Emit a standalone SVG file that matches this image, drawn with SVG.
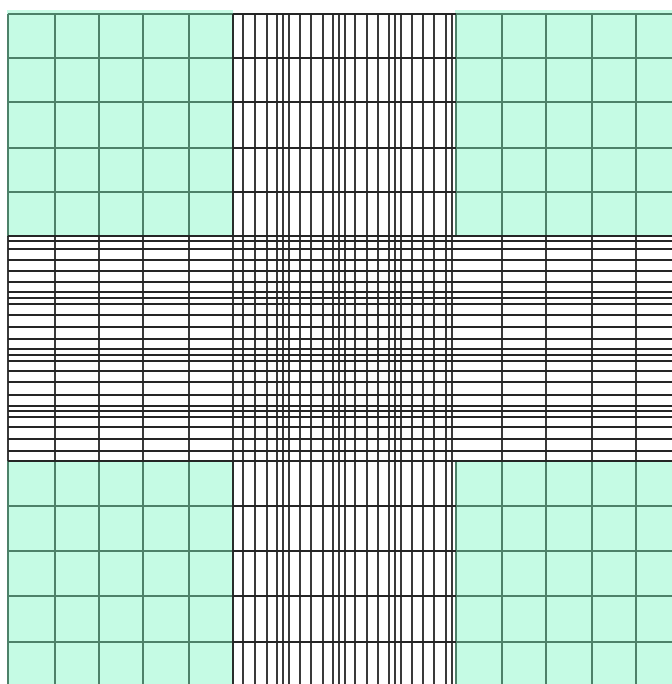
<svg xmlns="http://www.w3.org/2000/svg" width="672" height="684" viewBox="0 0 672 684">
<style>
.fill{fill:#c5fbe4;stroke:none}
.g{fill:none;stroke:#4d8169;stroke-width:2}
.k{fill:none;stroke:#252525;stroke-width:1.8}
</style>
<rect width="672" height="684" fill="#ffffff"/>
<g id="green-areas">
<rect class="fill" x="7" y="10" width="226" height="227"/>
<rect class="fill" x="455" y="10" width="217" height="227"/>
<rect class="fill" x="7" y="461" width="226" height="223"/>
<rect class="fill" x="455" y="461" width="217" height="223"/>
</g>
<g id="green-grid">
<path class="g" d="M8 14V237M55 14V237M99 14V237M143 14V237M189 14V237M233 14V237M8 14H233M8 58H233M8 102H233M8 148H233M8 192H233"/>
<path class="g" d="M456 14V237M502 14V237M546 14V237M592 14V237M636 14V237M456 14H672M456 58H672M456 102H672M456 148H672M456 192H672"/>
<path class="g" d="M8 461V684M55 461V684M99 461V684M143 461V684M189 461V684M233 461V684M8 506H233M8 551H233M8 596H233M8 642H233"/>
<path class="g" d="M456 461V684M502 461V684M546 461V684M592 461V684M636 461V684M456 506H672M456 551H672M456 596H672M456 642H672"/>
</g>
<g id="coarse-lines">
<path class="k" d="M233 14H456M233 58H456M233 102H456M233 148H456M233 192H456M233 506H456M233 551H456M233 596H456M233 642H456"/>
<path class="k" d="M8 236V461M55 236V461M99 236V461M143 236V461M189 236V461M502 236V461M546 236V461M592 236V461M636 236V461"/>
</g>
<g id="fine-vertical">
<path class="k" d="M233 14V684M243 14V684M255 14V684M267 14V684M277 14V684M283 14V684M289 14V684M300 14V684M311 14V684M323 14V684M333 14V684M339 14V684M345 14V684M355 14V684M367 14V684M378 14V684M389 14V684M395 14V684M401 14V684M412 14V684M423 14V684M434 14V684M446 14V684M452 14V684"/>
</g>
<g id="fine-horizontal">
<path class="k" d="M8 236H672M8 241H672M8 249H672M8 260H672M8 271H672M8 282H672M8 292H672M8 298H672M8 304H672M8 315H672M8 327H672M8 339H672M8 349H672M8 355H672M8 361H672M8 371H672M8 382H672M8 395H672M8 406H672M8 411H672M8 417H672M8 427H672M8 439H672M8 451H672M8 461H672"/>
</g>
</svg>
